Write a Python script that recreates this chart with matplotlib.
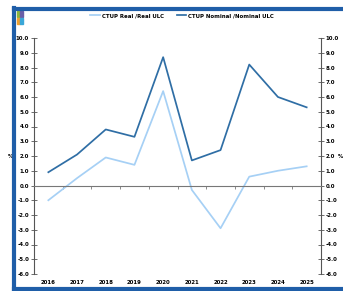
import matplotlib
matplotlib.use('Agg')
import matplotlib.pyplot as plt
from matplotlib.patches import Rectangle
from matplotlib.lines import Line2D
import numpy as np

years = ['2016', '2017', '2018', '2019', '2020', '2021', '2022', '2023', '2024', '2025']
real_ulc = [-1.0, 0.5, 1.9, 1.4, 6.4, -0.3, -2.9, 0.6, 1.0, 1.3]
nominal_ulc = [0.9, 2.1, 3.8, 3.3, 8.7, 1.7, 2.4, 8.2, 6.0, 5.3]
y_ticks = np.arange(-6, 11, 1)

plt.rcParams['font.family'] = ['DejaVu Sans']
plt.rcParams['font.stretch'] = 'condensed'

light = '#a6d0f5'
dark = '#2f6ea5'
frame = '#1f5ea8'
fs = 4.3

fig = plt.figure(figsize=(3.43, 2.91), dpi=100)
ax = fig.add_axes([34 / 343, 1 - 274 / 291, (321 - 34) / 343, (274 - 38) / 291])

x = np.arange(len(years))
ax.plot(x, real_ulc, color=light, lw=1.25)
ax.plot(x, nominal_ulc, color=dark, lw=1.25)

ax.set_xlim(-0.5, len(years) - 0.5)
ax.set_ylim(-6, 10)

# zero line with category ticks
ax.spines['top'].set_visible(False)
ax.spines['bottom'].set_position(('data', 0))
ax.spines['bottom'].set_color('#777777')
ax.set_xticks(np.arange(0.5, len(years) - 1, 1))
ax.set_xticklabels([])
ax.tick_params(axis='x', direction='out', length=2.5, width=0.6, color='#777777')
for i, yr in enumerate(years):
    ax.text(i, -0.025, yr, transform=ax.get_xaxis_transform(), ha='center', va='top',
            fontsize=fs, fontweight='bold')

# left and right value axes
ax.spines['left'].set_color('#555555')
ax.spines['right'].set_color('#555555')
ax.spines['left'].set_linewidth(0.8)
ax.spines['right'].set_linewidth(0.8)
ax.set_yticks(y_ticks)
ax.set_yticklabels([f'{v:.1f}' for v in y_ticks])
ax.tick_params(axis='y', direction='inout', length=4, width=0.6, color='#555555',
               labelsize=fs, left=True, right=True, labelleft=True, labelright=True, pad=1.5)
for t in ax.yaxis.get_major_ticks():
    t.label1.set_fontweight('bold')
    t.label2.set_fontweight('bold')
ax.text(-0.072, 2, '%', transform=ax.get_yaxis_transform(), ha='right', va='center',
        fontsize=fs, fontweight='bold')
ax.text(1.06, 2, '%', transform=ax.get_yaxis_transform(), ha='left', va='center',
        fontsize=fs, fontweight='bold')

# legend
handles = [Line2D([], [], color=light, lw=1.25), Line2D([], [], color=dark, lw=1.25)]
fig.legend(handles, ['CTUP Real /Real ULC', 'CTUP Nominal /Nominal ULC'],
           loc='center', bbox_to_anchor=(182 / 343, 1 - 16 / 291), ncol=2, frameon=False,
           handlelength=1.6, handletextpad=0.3, columnspacing=2.2,
           prop={'weight': 'bold', 'size': fs, 'stretch': 'condensed'})

# page frame: left, top and bottom edges
for xs, ys in [([14, 14], [8, 289]), ([14, 343], [8.5, 8.5]), ([14, 343], [289, 289])]:
    fig.add_artist(Line2D([v / 343 for v in xs], [1 - v / 291 for v in ys],
                          transform=fig.transFigure, color=frame, lw=3))
# logo squares
logo = [('#8bb63e', 17, 11), ('#6a5fa8', 20, 11), ('#f0a030', 17, 18), ('#3aa7d8', 20, 18)]
for c, lx, ly in logo:
    fig.patches.append(Rectangle((lx / 343, 1 - (ly + 6) / 291), 3 / 343, 6 / 291,
                                 transform=fig.transFigure, color=c))

fig.savefig('out.png', dpi=100)
